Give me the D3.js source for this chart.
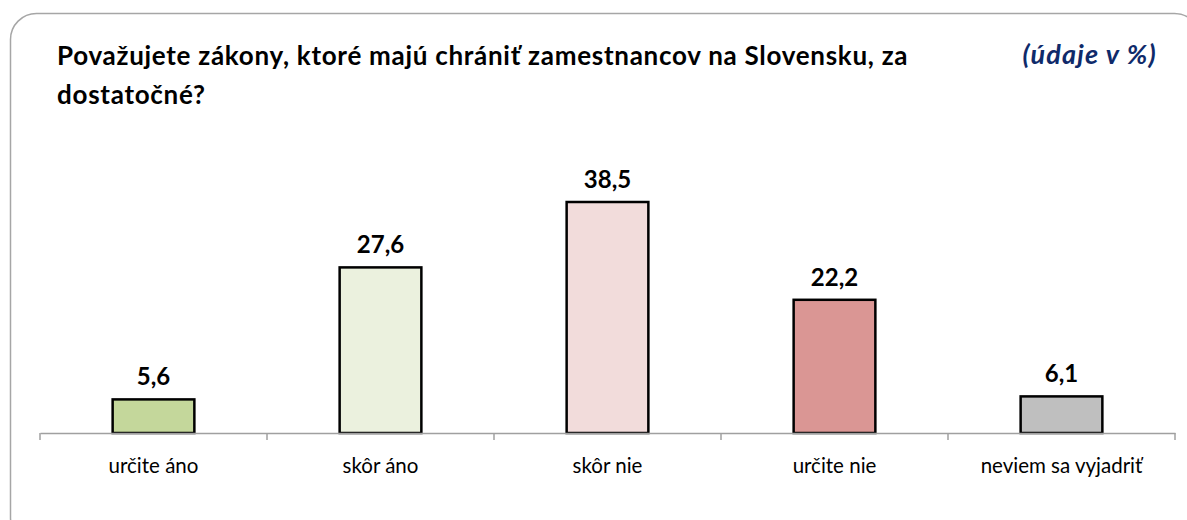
<!DOCTYPE html>
<html>
<head>
<meta charset="utf-8">
<script src="https://cdn.jsdelivr.net/npm/d3@7"></script>
<style>
  body { margin: 0; background: #fff; }
  text { font-family: Lato, 'Open Sans', sans-serif; }
</style>
</head>
<body>
<div id="chart"></div>
<script>
var categories = ['určite áno', 'skôr áno', 'skôr nie', 'určite nie', 'neviem sa vyjadriť']
var values = [5.6, 27.6, 38.5, 22.2, 6.1]
var colors = ['#c4d79b', '#ebf1de', '#f2dcdb', '#da9694', '#bfbfbf']
var titleLines = ['Považujete zákony, ktoré majú chrániť zamestnancov na Slovensku, za', 'dostatočné?']
var unitLabel = '(údaje v %)'

var width = 1187
var height = 520

var svg = d3
  .select('#chart')
  .append('svg')
  .attr('width', width)
  .attr('height', height)

// rounded frame, runs off the right and bottom edge
svg
  .append('rect')
  .attr('x', 10.5)
  .attr('y', 13.5)
  .attr('width', 1190)
  .attr('height', 530)
  .attr('rx', 26)
  .attr('fill', 'none')
  .attr('stroke', '#a6a6a6')
  .attr('stroke-width', 1.5)

// title
svg
  .append('text')
  .attr('x', 57)
  .attr('y', 65)
  .attr('font-size', 26)
  .attr('font-weight', 'bold')
  .attr('letter-spacing', 0.72)
  .attr('fill', '#000')
  .selectAll('tspan')
  .data(titleLines)
  .enter()
  .append('tspan')
  .attr('x', 57)
  .attr('dy', (d, i) => (i === 0 ? 0 : 39))
  .text(d => d)

svg
  .append('text')
  .attr('x', 1157)
  .attr('y', 64)
  .attr('text-anchor', 'end')
  .attr('font-size', 27)
  .attr('font-weight', 'bold')
  .attr('font-style', 'italic')
  .attr('letter-spacing', 1.2)
  .attr('fill', '#0f2a6a')
  .text(unitLabel)

var x = d3
  .scaleBand()
  .domain(categories)
  .range([40, 1175])
  .paddingInner(0.64)
  .paddingOuter(0.32)

var y = d3.scaleLinear().domain([0, 38.5]).range([433, 202])

// bars
svg
  .selectAll('.bar')
  .data(values)
  .enter()
  .append('rect')
  .attr('class', 'bar')
  .attr('x', (d, i) => x(categories[i]))
  .attr('y', d => y(d))
  .attr('width', x.bandwidth())
  .attr('height', d => y(0) - y(d))
  .attr('fill', (d, i) => colors[i])
  .attr('stroke', '#000')
  .attr('stroke-width', 2.5)

// axis
var axisScale = d3.scaleBand().domain(categories).range([40, 1175])
var axis = svg
  .append('g')
  .attr('transform', 'translate(0,' + y(0) + ')')
  .call(
    d3
      .axisBottom(axisScale)
      .tickSize(0)
      .tickSizeOuter(0)
  )
axis.select('.domain').attr('stroke', '#a0a0a0').attr('stroke-width', 1.5)
axis.selectAll('.tick line').remove()
axis
  .selectAll('.tick text')
  .attr('font-size', 20.5)
  .attr('fill', '#000')
  .attr('dy', 0)
  .attr('y', 40)
  .style('font-family', 'Lato, sans-serif')

// tick marks at category boundaries
var bounds = categories.map(c => axisScale(c)).concat([1175])
svg
  .selectAll('.sep')
  .data(bounds)
  .enter()
  .append('line')
  .attr('x1', d => d)
  .attr('x2', d => d)
  .attr('y1', y(0))
  .attr('y2', y(0) + 7)
  .attr('stroke', '#a0a0a0')
  .attr('stroke-width', 1.5)

// value labels
svg
  .selectAll('.val')
  .data(values)
  .enter()
  .append('text')
  .attr('class', 'val')
  .attr('x', (d, i) => x(categories[i]) + x.bandwidth() / 2)
  .attr('y', d => y(d) - 14)
  .attr('text-anchor', 'middle')
  .attr('font-size', 24)
  .attr('font-weight', 'bold')
  .attr('fill', '#000')
  .text(d => String(d).replace('.', ','))
</script>
</body>
</html>
